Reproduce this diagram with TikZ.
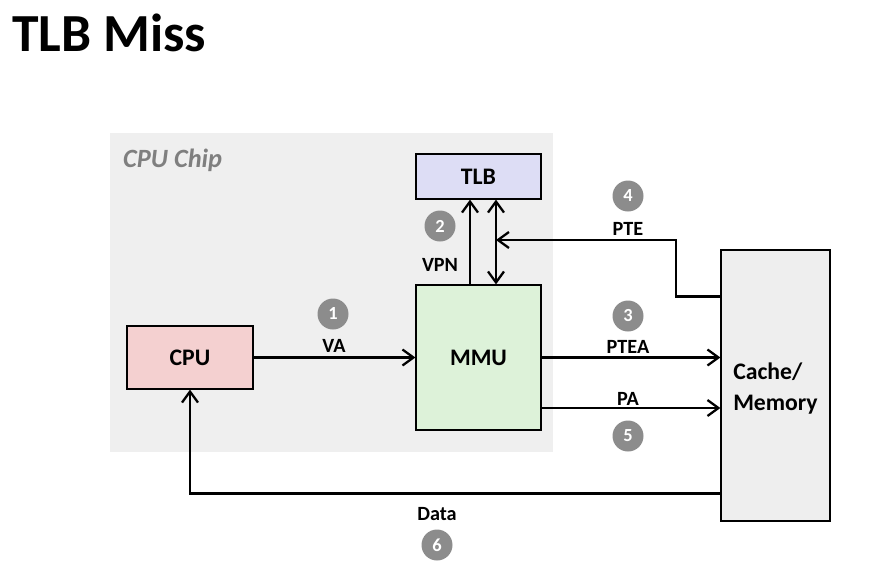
\documentclass[tikz,border=0pt]{standalone}
\usepackage{fontspec}
\setmainfont{Carlito}
\usetikzlibrary{positioning, arrows.meta}

\definecolor{chipGray}{HTML}{EFEFEF}
\definecolor{chipText}{HTML}{7F7F7F}
\definecolor{tlbBlue}{HTML}{DDDDF5}
\definecolor{mmuGreen}{HTML}{DDF2D9}
\definecolor{cpuPink}{HTML}{F4D0D0}
\definecolor{memGray}{HTML}{EEEEEE}
\definecolor{numGray}{HTML}{8C8C8C}

\begin{document}
\begin{tikzpicture}[x=0.02cm, y=-0.02cm,
    box/.style={draw, line width=0.7pt, align=center, font=\bfseries\fontsize{13.5}{17.5}\selectfont},
    flow/.style={line width=1.3pt, -{Straight Barb[length=2.2mm, width=3.2mm]}},
    stepNum/.style={circle, fill=numGray, text=white, inner sep=0pt, minimum size=0.62cm, font=\bfseries\fontsize{10.5}{10.5}\selectfont},
    wire/.style={font=\bfseries\fontsize{11.5}{13}\selectfont}]
    \useasboundingbox (0,0) rectangle (872,569);
    \node[anchor=west, font=\bfseries\fontsize{30.5}{34}\selectfont] (title) at (6,33) {TLB Miss};

    % chip area
    \fill[chipGray] (110,133) rectangle (553,452);
    \node[anchor=west, text=chipText, font=\bfseries\itshape\fontsize{15}{17}\selectfont] (chipName) at (117,160) {CPU Chip};

    \node[box, fill=tlbBlue, minimum width=2.5cm, minimum height=0.9cm] (tlb) at (478.5,176.5) {TLB};
    \node[box, fill=mmuGreen, minimum width=2.5cm, minimum height=2.9cm] (mmu) at (478.5,357.5) {MMU};
    \node[box, fill=cpuPink, minimum width=2.52cm, minimum height=1.26cm] (cpu) at (190,357.5) {CPU};
    \node[box, fill=memGray, minimum width=2.18cm, minimum height=5.42cm] (memory) at (775.5,385.5) {};
    \node[align=left, font=\bfseries\fontsize{13.5}{17.5}\selectfont] (memoryText) at (775.5,388.5) {Cache/\\Memory};

    \coordinate (pteBend) at (676,240);
    \coordinate (pteTip) at (496,240);
    \coordinate (paStart) at (541,408);

    \draw[flow] (cpu.east) -- (mmu.west);
    \draw[flow] ([xshift=-0.17cm]mmu.north) -- ([xshift=-0.17cm]tlb.south);
    \draw[flow, {Straight Barb[length=2.2mm, width=3.2mm]}-{Straight Barb[length=2.2mm, width=3.2mm]}] ([xshift=0.35cm]mmu.north) -- ([xshift=0.35cm]tlb.south);
    \draw[flow] ([yshift=-0.94cm]memory.north west) -| (pteBend) -- (pteTip);
    \draw[flow] (mmu.east) -- (mmu.east -| memory.west);
    \draw[flow] (paStart) -- (paStart -| memory.west);
    \draw[flow] ([yshift=0.56cm]memory.south west) -| (cpu.south);

    \node[stepNum] (stepOne) at (333,314) {1};
    \node[wire] (vaLabel) at (334,346) {VA};
    \node[stepNum] (stepTwo) at (440,226) {2};
    \node[wire] (vpnLabel) at (440,265) {VPN};
    \node[stepNum] (stepThree) at (628,316) {3};
    \node[wire] (pteaLabel) at (628,347) {PTEA};
    \node[stepNum] (stepFour) at (628,196) {4};
    \node[wire] (pteLabel) at (628,229) {PTE};
    \node[wire] (paLabel) at (628,399) {PA};
    \node[stepNum] (stepFive) at (628,436) {5};
    \node[wire] (dataLabel) at (437,514) {Data};
    \node[stepNum] (stepSix) at (437,545) {6};
\end{tikzpicture}
\end{document}
